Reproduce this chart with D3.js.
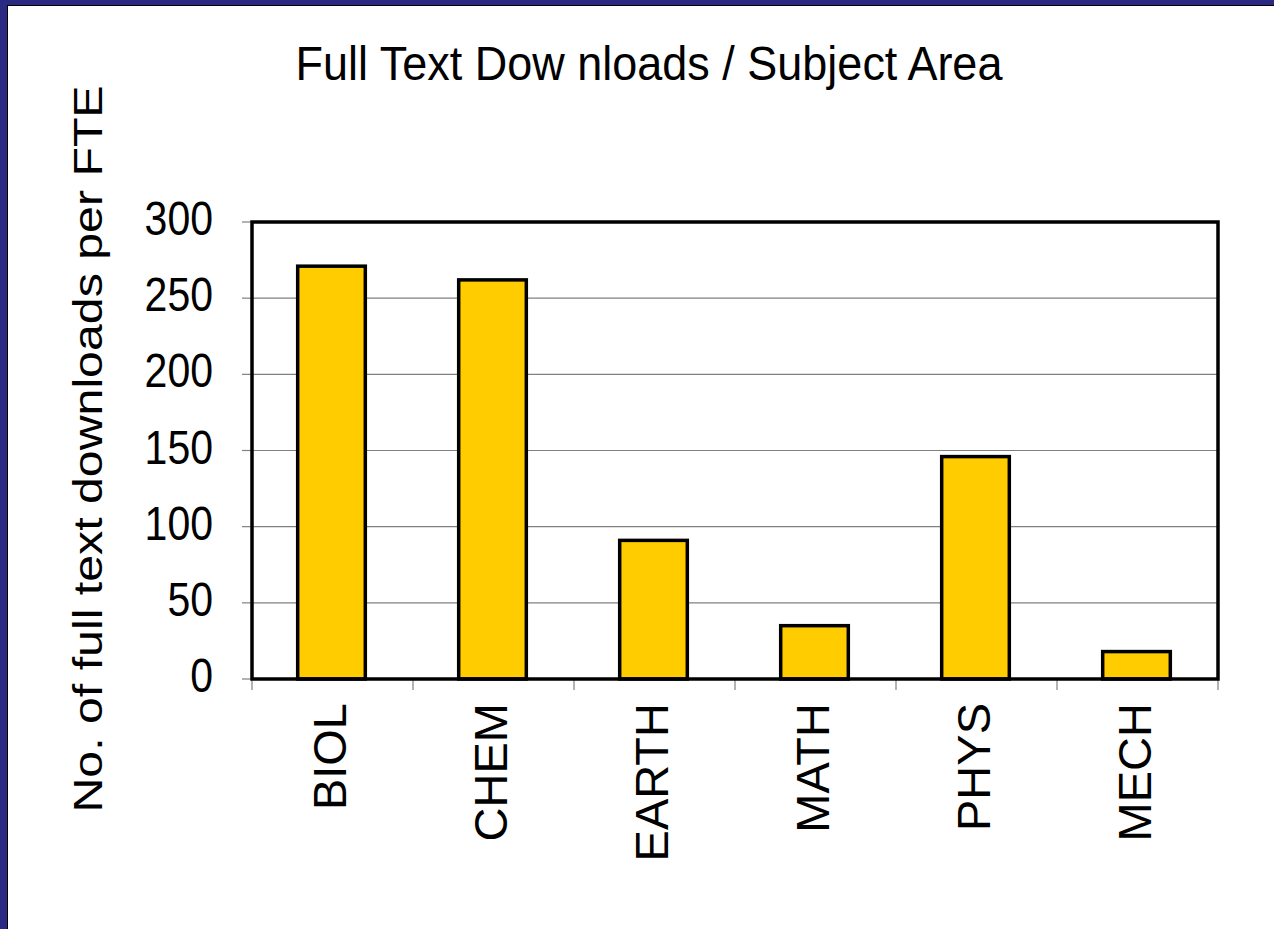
<!DOCTYPE html>
<html>
<head>
<meta charset="utf-8">
<script src="https://cdn.jsdelivr.net/npm/d3@7"></script>
<style>
  html, body { margin: 0; padding: 0; background: #2b2a82; }
  svg { display: block; }
</style>
</head>
<body>
<svg id="chart" width="1274" height="929"></svg>
<script>
// data
var categories = ["BIOL", "CHEM", "EARTH", "MATH", "PHYS", "MECH"]
var downloads = [271, 262, 91, 35, 146, 18]
var yTicks = [0, 50, 100, 150, 200, 250, 300]

var W = 1274, H = 929
var svg = d3.select("#chart")

// slide frame
svg.append("rect").attr("x", 0).attr("y", 0).attr("width", W).attr("height", H).attr("fill", "#2b2a82")
svg.append("rect").attr("x", 7).attr("y", 5).attr("width", W - 7).attr("height", H - 5).attr("fill", "#000")
svg.append("rect").attr("x", 8).attr("y", 6).attr("width", W - 8).attr("height", H - 6).attr("fill", "#fff")

var plot = { left: 252, right: 1218, top: 222, bottom: 679 }

var x = d3.scaleBand()
    .domain(categories)
    .range([plot.left, plot.right])
    .paddingInner(0.58)
    .paddingOuter(0.29)

var xb = d3.scaleBand().domain(categories).range([plot.left, plot.right])

var y = d3.scaleLinear().domain([0, 300]).range([plot.bottom, plot.top])

var font = "Liberation Sans, Arial, sans-serif"

// gridlines
svg.append("g")
   .selectAll("line")
   .data(yTicks.filter(d => d > 0 && d < 300))
   .join("line")
   .attr("x1", plot.left).attr("x2", plot.right)
   .attr("y1", d => y(d)).attr("y2", d => y(d))
   .attr("stroke", "#808080").attr("stroke-width", 1.2)

// y axis ticks + labels (text is stretched vertically like the source slide)
var yAxis = svg.append("g")
yAxis.selectAll("line")
   .data(yTicks)
   .join("line")
   .attr("x1", plot.left - 10).attr("x2", plot.left)
   .attr("y1", d => y(d)).attr("y2", d => y(d))
   .attr("stroke", "#808080").attr("stroke-width", 1.2)
yAxis.selectAll("text")
   .data(yTicks)
   .join("text")
   .attr("transform", d => "translate(" + (plot.left - 39) + "," + (y(d) + 13) + ") scale(1,1.19)")
   .attr("text-anchor", "end")
   .attr("font-family", font)
   .attr("font-size", 41)
   .text(d => d)

// x ticks at band edges
var edges = categories.map(c => xb(c)).concat([plot.right])
svg.append("g")
   .selectAll("line")
   .data(edges)
   .join("line")
   .attr("x1", d => d).attr("x2", d => d)
   .attr("y1", plot.bottom).attr("y2", plot.bottom + 11)
   .attr("stroke", "#808080").attr("stroke-width", 1.2)

// bars
svg.append("g")
   .selectAll("rect")
   .data(downloads)
   .join("rect")
   .attr("x", (d, i) => x(categories[i]) - 1)
   .attr("y", d => y(d))
   .attr("width", x.bandwidth())
   .attr("height", d => plot.bottom - y(d))
   .attr("fill", "#ffcc00")
   .attr("stroke", "#000")
   .attr("stroke-width", 3.5)

// plot border
svg.append("rect")
   .attr("x", plot.left).attr("y", plot.top)
   .attr("width", plot.right - plot.left).attr("height", plot.bottom - plot.top)
   .attr("fill", "none").attr("stroke", "#000").attr("stroke-width", 3.5)

// category labels
svg.append("g")
   .selectAll("text")
   .data(categories)
   .join("text")
   .attr("transform", d => "translate(" + (xb(d) + xb.bandwidth() / 2 + 13.5) + "," + (plot.bottom + 24) + ") rotate(-90)")
   .attr("text-anchor", "end")
   .attr("font-family", font)
   .attr("font-size", 47)
   .text(d => d)

// title
svg.append("text")
   .attr("transform", "translate(649,80) scale(1,1.087)")
   .attr("text-anchor", "middle")
   .attr("font-family", font)
   .attr("font-size", 45)
   .text("Full Text Dow nloads / Subject Area")

// y title
svg.append("text")
   .attr("transform", "translate(102,449) scale(1,1.207) rotate(-90)")
   .attr("text-anchor", "middle")
   .attr("font-family", font)
   .attr("font-size", 40)
   .text("No. of full text downloads per FTE")
</script>
</body>
</html>
